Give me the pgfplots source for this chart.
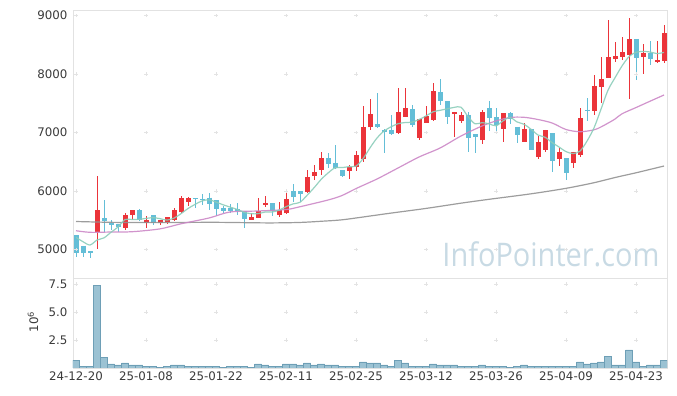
\documentclass[border=0pt]{standalone}
\usepackage{pgfplots}
\pgfplotsset{compat=1.18}
\usepackage{pgfplotstable}
\usepackage{graphicx}
\usepackage{fontspec}
\setmainfont{DejaVu Sans}
\newfontfamily\wmfont{Open Sans}
\definecolor{cRed}{HTML}{EB343A}
\definecolor{cBlue}{HTML}{64BED7}
\definecolor{cMA5}{HTML}{8CCDBA}
\definecolor{cMA20}{HTML}{CC88C7}
\definecolor{cMA60}{HTML}{929292}
\definecolor{cVol}{HTML}{9BC2D3}
\definecolor{cVolE}{HTML}{6E9FB6}
\definecolor{cFrame}{HTML}{E2E2E2}
\definecolor{cGrid}{HTML}{E3E3E3}
\definecolor{cTxt}{HTML}{3A3A3A}
\definecolor{cWm}{HTML}{C8DAE4}

\pgfplotstableread{
i o h l c
3 5300 6255 5000 5673
7 5370 5616 5330 5587
8 5587 5680 5502 5673
10 5455 5575 5370 5502
12 5445 5505 5420 5502
13 5462 5550 5440 5548
14 5502 5700 5490 5673
15 5633 5912 5620 5883
16 5815 5890 5746 5883
25 5502 5616 5500 5558
26 5541 5873 5541 5661
27 5764 5912 5730 5798
29 5587 5815 5558 5673
30 5616 5959 5610 5856
33 5986 6358 5959 6243
34 6260 6443 6186 6323
35 6358 6660 6272 6563
39 6346 6443 6198 6404
40 6414 6688 6346 6614
41 6541 7453 6500 7089
42 7089 7568 7043 7317
46 6991 7757 6969 7351
47 7270 7757 7270 7419
49 6911 7230 6871 7226
50 7168 7454 7168 7282
51 7214 7842 7202 7711
54 7322 7351 6928 7351
55 7202 7356 7157 7300
58 6866 7380 6798 7351
61 7065 7329 6832 7329
64 6842 7168 6842 7055
66 6586 6940 6551 6832
67 6705 7043 6671 7043
69 6551 6729 6426 6666
71 6483 6666 6387 6666
72 6620 7414 6586 7248
74 7373 7976 7300 7796
75 7784 8293 7500 7912
76 7938 8926 7938 8293
77 8258 8541 8212 8310
78 8296 8635 8241 8378
79 8335 8955 7568 8601
81 8288 8520 8002 8366
83 8204 8572 8185 8241
84 8224 8835 8195 8704
}\up

\pgfplotstableread{
i o h l c
0 5245 5250 4868 4945
1 5062 5062 4873 4932
2 4971 4975 4846 4942
4 5536 5844 5291 5490
5 5455 5502 5330 5421
6 5425 5440 5300 5380
9 5673 5690 5490 5502
11 5587 5590 5420 5445
17 5873 5880 5702 5856
18 5861 5947 5758 5844
19 5883 5959 5673 5770
20 5844 5850 5570 5690
21 5712 5750 5620 5656
22 5712 5775 5630 5656
23 5685 5798 5587 5650
24 5656 5660 5360 5524
28 5788 5790 5570 5656
31 5998 6118 5815 5900
32 5998 6000 5815 5942
36 6563 6650 6387 6460
37 6472 6785 6380 6387
38 6358 6360 6233 6260
43 7145 7671 7077 7099
44 7048 7054 6644 7003
45 7043 7294 6975 6979
48 7397 7471 7089 7133
52 7693 7911 7466 7544
53 7539 7540 7140 7257
56 7300 7356 6671 6911
57 6974 6974 6654 6928
59 7419 7534 7020 7253
60 7260 7414 6969 7128
62 7329 7346 7140 7231
63 7099 7100 6815 6962
65 7060 7060 6705 6705
68 6986 6986 6318 6512
70 6563 6563 6181 6312
73 7390 7585 7190 7373
80 8601 8601 7894 8281
82 8366 8561 8156 8264
}\down

\pgfplotstableread{
i v
0 0.65
1 0.15
2 0.15
3 7.35
4 0.98
5 0.36
6 0.27
7 0.45
8 0.27
9 0.27
10 0.15
11 0.15
12 0.03
13 0.15
14 0.27
15 0.27
16 0.15
17 0.15
18 0.15
19 0.15
20 0.15
21 0.03
22 0.15
23 0.15
24 0.15
25 0.03
26 0.36
27 0.27
28 0.15
29 0.15
30 0.36
31 0.36
32 0.27
33 0.45
34 0.27
35 0.36
36 0.27
37 0.27
38 0.15
39 0.15
40 0.15
41 0.54
42 0.45
43 0.45
44 0.27
45 0.15
46 0.71
47 0.45
48 0.15
49 0.15
50 0.15
51 0.36
52 0.27
53 0.27
54 0.27
55 0.15
56 0.15
57 0.15
58 0.27
59 0.15
60 0.15
61 0.15
62 0.03
63 0.15
64 0.27
65 0.15
66 0.15
67 0.15
68 0.15
69 0.15
70 0.15
71 0.15
72 0.54
73 0.36
74 0.45
75 0.54
76 1.07
77 0.27
78 0.27
79 1.61
80 0.54
81 0.15
82 0.27
83 0.27
84 0.71
}\vol

\pgfplotsset{
  myax/.style={
    scale only axis, width=594pt,
    xmin=-0.4286, xmax=84.4286,
    axis line style={draw=cFrame, line width=0.8pt},
    major tick length=0pt,
    tick label style={font=\fontsize{11.8}{13}\selectfont, text=cTxt},
    /pgf/number format/assume math mode=true,
    xtick={0,10,20,30,40,50,60,70,80},
  },
  wick/.style={draw=none, mark=none, forget plot,
    error bars/.cd, y dir=both, y explicit, error mark=none,
    error bar style={draw=#1, line width=1pt, solid}},
}

\begin{document}
\begin{tikzpicture}
\useasboundingbox (0,0) rectangle (677pt,396pt);
\node[anchor=base, inner sep=0pt, text=cWm] at (551pt,129.3pt)
  {\wmfont\fontsize{32.5}{34}\selectfont\scalebox{0.89}[1]{InfoPointer.com}};

\begin{axis}[myax, at={(73pt,118pt)}, anchor=south west, height=268pt,
  ymin=4509, ymax=9097,
  xticklabels={},
  ytick={5000,6000,7000,8000,9000},
  yticklabels={5000,6000,7000,8000,9000},
  yticklabel style={xshift=-2pt},
]
% grid crosses
\addplot[only marks, mark=+, mark size=1.6pt, color=cGrid, forget plot] coordinates {
(0,5000)(10,5000)(20,5000)(30,5000)(40,5000)(50,5000)(60,5000)(70,5000)(80,5000)
(0,6000)(10,6000)(20,6000)(30,6000)(40,6000)(50,6000)(60,6000)(70,6000)(80,6000)
(0,7000)(10,7000)(20,7000)(30,7000)(40,7000)(50,7000)(60,7000)(70,7000)(80,7000)
(0,8000)(10,8000)(20,8000)(30,8000)(40,8000)(50,8000)(60,8000)(70,8000)(80,8000)
(0,9000)(10,9000)(20,9000)(30,9000)(40,9000)(50,9000)(60,9000)(70,9000)(80,9000)
};
% wicks
\addplot[wick=cRed] table[x=i, y=c, y error plus expr=\thisrow{h}-\thisrow{c}, y error minus expr=\thisrow{c}-\thisrow{l}] {\up};
\addplot[wick=cBlue] table[x=i, y=c, y error plus expr=\thisrow{h}-\thisrow{c}, y error minus expr=\thisrow{c}-\thisrow{l}] {\down};
% bodies
\addplot[draw=none, mark=none, forget plot,
  error bars/.cd, y dir=plus, y explicit, error mark=none,
  error bar style={draw=cRed, line width=5pt, solid}]
  table[x=i, y=o, y error plus expr=\thisrow{c}-\thisrow{o}] {\up};
\addplot[draw=none, mark=none, forget plot,
  error bars/.cd, y dir=minus, y explicit, error mark=none,
  error bar style={draw=cBlue, line width=5pt, solid}]
  table[x=i, y=o, y error minus expr=\thisrow{o}-\thisrow{c}] {\down};
% moving averages
\addplot[smooth, color=cMA60, line width=1.2pt, opacity=0.9] coordinates {
(0,5476)(5,5462)(10,5458)(15,5460)(20,5462)(25,5455)(28,5452)(32,5460)(35,5480)(38,5505)(42,5570)(45,5620)(50,5700)(55,5790)(59,5856)(65,5950)(70,6044)(74,6140)(77,6229)(80,6310)(84,6426)
};
\addplot[smooth, color=cMA20, line width=1.2pt, opacity=0.9] coordinates {
(0,5318)(2,5291)(5,5296)(8,5301)(12,5350)(15,5437)(19,5536)(22,5639)(26,5656)(30,5681)(32,5729)(36,5844)(38,5921)(40,6040)(43,6204)(46,6392)(49,6580)(52,6734)(55,6940)(58,7111)(60,7197)(62,7257)(64,7260)(66,7222)(68,7163)(70,7051)(72,7013)(74,7045)(75,7095)(76,7160)(77,7230)(78,7320)(80,7427)(82,7535)(84,7642)
};
\addplot[smooth, color=cMA5, line width=1.2pt, opacity=0.9] coordinates {
(0,5205)(1,5130)(2,5074)(3,5159)(4,5196)(5,5292)(6,5381)(7,5510)(8,5510)(9,5513)(10,5529)(11,5542)(12,5525)(13,5500)(14,5534)(15,5610)(16,5698)(17,5769)(18,5828)(19,5847)(20,5809)(21,5763)(22,5723)(23,5684)(24,5635)(25,5609)(26,5610)(27,5638)(28,5639)(29,5669)(30,5729)(31,5777)(32,5805)(33,5923)(34,6053)(35,6194)(36,6306)(37,6395)(38,6399)(39,6415)(40,6425)(41,6551)(42,6737)(43,6905)(44,7024)(45,7097)(46,7150)(47,7170)(48,7177)(49,7222)(50,7282)(51,7354)(52,7379)(53,7404)(54,7429)(55,7433)(56,7273)(57,7149)(58,7168)(59,7149)(60,7114)(61,7198)(62,7258)(63,7181)(64,7141)(65,7056)(66,6957)(67,6919)(68,6829)(69,6752)(70,6673)(71,6640)(72,6681)(73,6853)(74,7079)(75,7399)(76,7724)(77,7937)(78,8138)(79,8299)(80,8373)(81,8387)(82,8378)(83,8351)(84,8371)
};
\end{axis}

\begin{axis}[myax, at={(73pt,28pt)}, anchor=south west, height=90pt,
  ymin=0, ymax=8.04,
  xticklabels={24-12-20,25-01-08,25-01-22,25-02-11,25-02-25,25-03-12,25-03-26,25-04-09,25-04-23},
  ytick={2.5,5,7.5},
  yticklabels={2.5,5.0,7.5},
  yticklabel style={xshift=-2pt},
  ylabel={10\textsuperscript{6}},
  ylabel style={at={(axis description cs:-0.0673,0.51)}, anchor=center, rotate=0,
    font=\fontsize{11.8}{13}\selectfont, text=cTxt},
]
\addplot[only marks, mark=+, mark size=1.6pt, color=cGrid, forget plot] coordinates {
(0,2.5)(10,2.5)(20,2.5)(30,2.5)(40,2.5)(50,2.5)(60,2.5)(70,2.5)(80,2.5)
(0,5)(10,5)(20,5)(30,5)(40,5)(50,5)(60,5)(70,5)(80,5)
(0,7.5)(10,7.5)(20,7.5)(30,7.5)(40,7.5)(50,7.5)(60,7.5)(70,7.5)(80,7.5)
};
\addplot[ybar, bar width=7pt, bar shift=0pt, fill=cVol, draw=cVolE, line width=0.6pt] table[x=i, y=v] {\vol};
\end{axis}
\end{tikzpicture}
\end{document}
